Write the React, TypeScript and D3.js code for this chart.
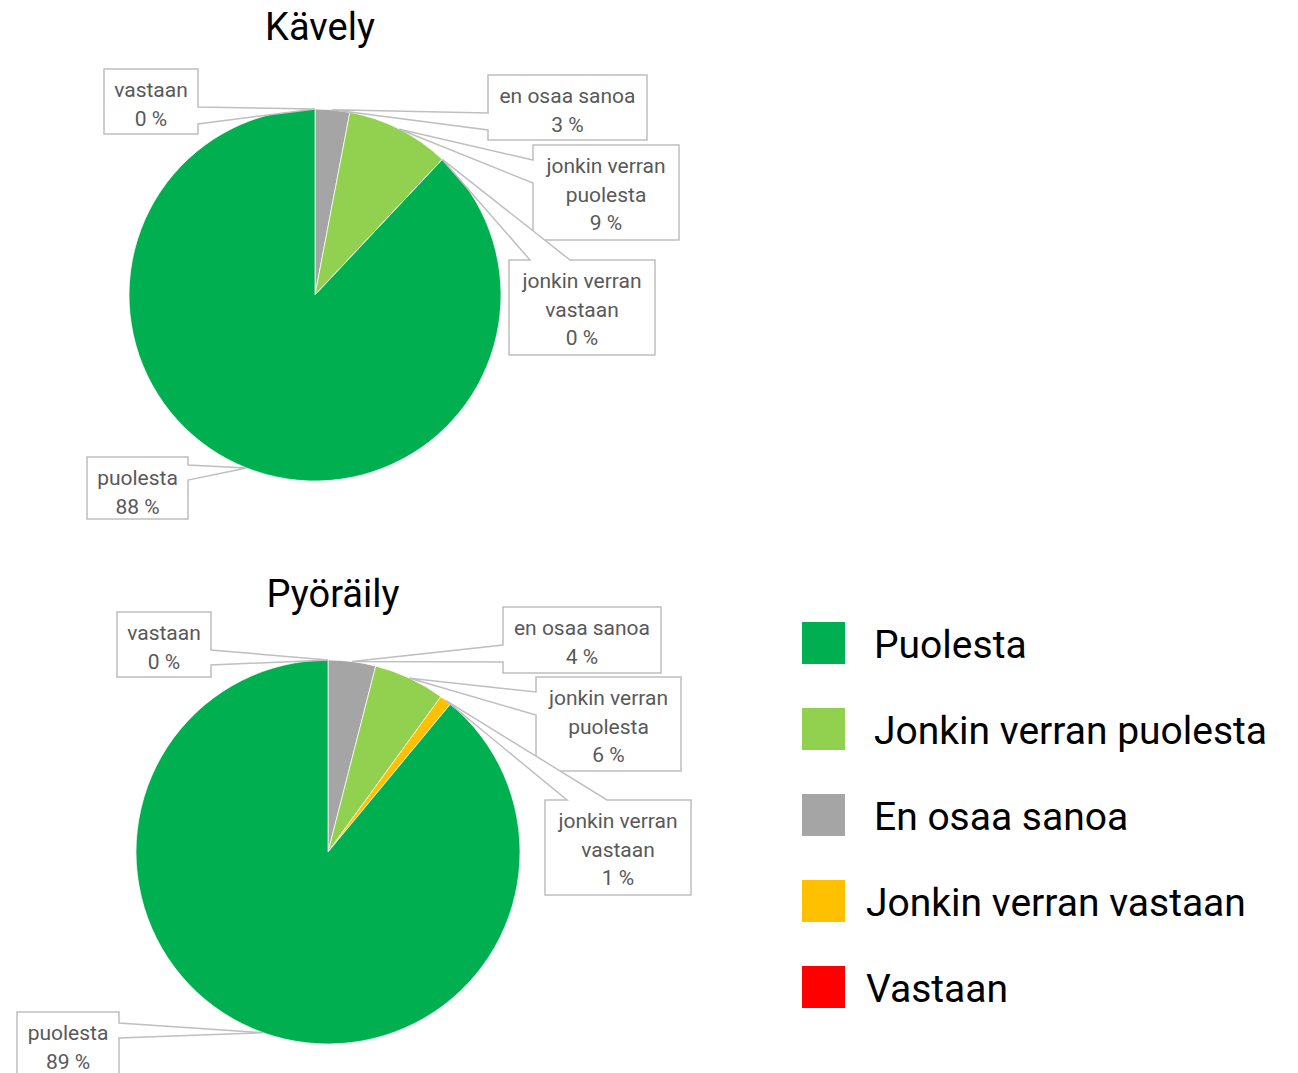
import React from 'react';
import * as d3 from 'd3';

// categories in drawing order (clockwise from 12 o'clock)
const categories = ['vastaan', 'en osaa sanoa', 'jonkin verran puolesta', 'jonkin verran vastaan', 'puolesta'];
const labelLines = [['vastaan'], ['en osaa sanoa'], ['jonkin verran', 'puolesta'], ['jonkin verran', 'vastaan'], ['puolesta']];
const sliceColors = ['#FF0000', '#A5A5A5', '#92D050', '#FFC000', '#00B050'];

const kavelyValues = [0, 3, 9, 0, 88];
const pyorailyValues = [0, 4, 6, 1, 89];

const legendNames = ['Puolesta', 'Jonkin verran puolesta', 'En osaa sanoa', 'Jonkin verran vastaan', 'Vastaan'];
const legendColors = ['#00B050', '#92D050', '#A5A5A5', '#FFC000', '#FF0000'];

// label box layout: [x, y, w, h, side, a, b] (a,b = wedge base along side)
type Box = [number, number, number, number, string, number, number];
const kavelyBoxes: Box[] = [
  [104, 69, 94, 65, 'right', 107, 124],
  [488, 75, 159, 65, 'left', 113, 130],
  [533, 145, 146, 95, 'left', 160, 183],
  [509, 260, 146, 95, 'top', 530, 570],
  [87, 457, 101, 62, 'right', 465, 480],
];
const pyorailyBoxes: Box[] = [
  [117, 612, 94, 65, 'right', 650, 665],
  [503, 607, 158, 66, 'left', 645, 662],
  [536, 677, 145, 94, 'left', 692, 715],
  [545, 800, 146, 95, 'top', 567, 607],
  [17, 1012, 102, 66, 'right', 1023, 1038],
];

const FONT = 'Roboto, "DejaVu Sans", sans-serif';

function calloutPath(b: Box, tip: [number, number]) {
  const [x, y, w, h, side, a, bb] = b;
  const x1 = x + w, y1 = y + h;
  const t = `L${tip[0]},${tip[1]}`;
  let p = `M${x},${y}`;
  if (side === 'top') p += `L${a},${y}${t}L${bb},${y}`;
  p += `L${x1},${y}`;
  if (side === 'right') p += `L${x1},${a}${t}L${x1},${bb}`;
  p += `L${x1},${y1}L${x},${y1}`;
  if (side === 'left') p += `L${x},${bb}${t}L${x},${a}`;
  p += 'Z';
  return p;
}

function Pie({ values, boxes, cx, cy, r, title, titleY }: { values: number[]; boxes: Box[]; cx: number; cy: number; r: number; title: string; titleY: number }) {
  const pie = d3.pie<number>().sort(null).value((d) => d);
  const arcs = pie(values);
  const arc = d3.arc<d3.PieArcDatum<number>>().innerRadius(0).outerRadius(r);
  const edge = d3.arc<d3.PieArcDatum<number>>().innerRadius(r).outerRadius(r);
  return (
    <g>
      <text x={cx + 5} y={titleY} textAnchor="middle" fontFamily={FONT} fontSize={38} fill="#000">{title}</text>
      <g transform={`translate(${cx},${cy})`}>
        {arcs.map((a, i) => (
          <path key={i} d={arc(a) || ''} fill={sliceColors[i]} stroke="#fff" strokeWidth={1} strokeOpacity={0.7} />
        ))}
      </g>
      {arcs.map((a, i) => {
        const c = edge.centroid(a);
        const tip: [number, number] = [cx + c[0], cy + c[1]];
        const b = boxes[i];
        const lines = [...labelLines[i], `${values[i]} %`];
        const mx = b[0] + b[2] / 2;
        return (
          <g key={'l' + i}>
            <path d={calloutPath(b, tip)} fill="#fff" stroke="#BFBFBF" strokeWidth={1.5} strokeLinejoin="miter" />
            {lines.map((ln, j) => (
              <text key={j} x={mx} y={b[1] + 28 + j * 28.5} textAnchor="middle" fontFamily={FONT} fontSize={21} fill="#595959">{ln}</text>
            ))}
          </g>
        );
      })}
    </g>
  );
}

export default function App() {
  const legendY = d3.scaleBand<string>().domain(legendNames).range([622, 1052]).paddingInner(0);
  return (
    <svg width={1298} height={1073} style={{ position: 'absolute', left: 0, top: 0, background: '#fff' }}>
      <Pie values={kavelyValues} boxes={kavelyBoxes} cx={315} cy={295} r={186} title="Kävely" titleY={40} />
      <Pie values={pyorailyValues} boxes={pyorailyBoxes} cx={328} cy={852} r={192} title="Pyöräily" titleY={607} />
      {legendNames.map((n, i) => {
        const y = legendY(n) as number;
        const tx = i < 3 ? 874 : 866;
        return (
          <g key={n}>
            <rect x={802} y={y} width={43} height={42} fill={legendColors[i]} />
            <text x={tx} y={y + 36} fontFamily={FONT} fontSize={39} fill="#000">{n}</text>
          </g>
        );
      })}
    </svg>
  );
}
